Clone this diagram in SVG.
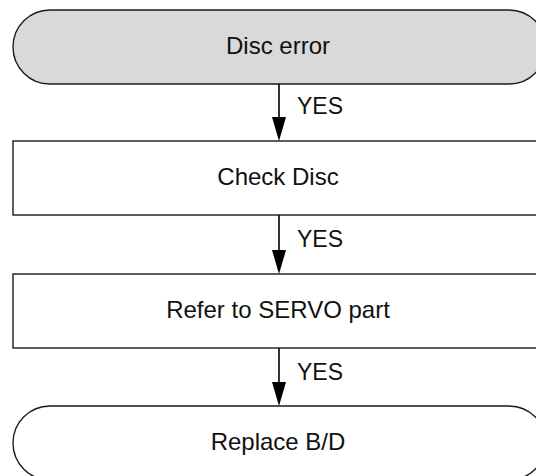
<svg xmlns="http://www.w3.org/2000/svg" width="536" height="476" viewBox="0 0 536 476">
<defs>
<style>
.box{fill:#ffffff;stroke:#1a1a1a;stroke-width:1.4}
.start{fill:#d9d9d9;stroke:#1a1a1a;stroke-width:1.4}
.lbl{font-family:"Liberation Sans",Arial,sans-serif;font-size:24px;fill:#111;text-anchor:middle}
.yes{font-family:"Liberation Sans",Arial,sans-serif;font-size:23px;fill:#111}
.conn{stroke:#000;stroke-width:1.6;fill:none;marker-end:url(#arr)}
</style>
<marker id="arr" markerWidth="14" markerHeight="24" refX="7" refY="24" orient="auto-start-reverse" markerUnits="userSpaceOnUse" viewBox="0 0 14 24">
<path d="M0,0 L14,0 L7,24 Z" fill="#000" transform="rotate(-90 7 12) translate(0 0)"/>
</marker>
</defs>
<rect width="536" height="476" fill="#ffffff"/>
<g id="node-disc-error">
<rect class="start" x="13" y="10" width="533" height="74" rx="37" ry="37"/>
<text class="lbl" x="278" y="54">Disc error</text>
</g>
<g id="node-check-disc">
<rect class="box" x="13" y="141" width="540" height="74"/>
<text class="lbl" x="278" y="185">Check Disc</text>
</g>
<g id="node-refer-servo">
<rect class="box" x="13" y="274" width="540" height="74"/>
<text class="lbl" x="278" y="317.5">Refer to SERVO part</text>
</g>
<g id="node-replace-bd">
<rect class="box" x="13" y="406" width="533" height="74" rx="37" ry="37"/>
<text class="lbl" x="278" y="450">Replace B/D</text>
</g>
<g id="connectors">
<line x1="279" y1="84" x2="279" y2="118" stroke="#000" stroke-width="1.6"/>
<polygon points="272,117 286,117 279,141" fill="#000"/>
<text class="yes" x="297" y="114">YES</text>
<line x1="279" y1="215" x2="279" y2="251" stroke="#000" stroke-width="1.6"/>
<polygon points="272,250 286,250 279,274" fill="#000"/>
<text class="yes" x="297" y="246.5">YES</text>
<line x1="279" y1="348" x2="279" y2="383" stroke="#000" stroke-width="1.6"/>
<polygon points="272,382 286,382 279,406" fill="#000"/>
<text class="yes" x="297" y="380">YES</text>
</g>
</svg>
